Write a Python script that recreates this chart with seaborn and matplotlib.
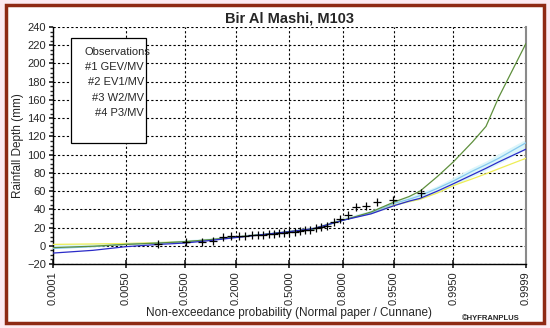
import pandas as pd
import numpy as np
import matplotlib
matplotlib.use("Agg")
import matplotlib.pyplot as plt
import matplotlib.patches as patches
import seaborn as sns
from statistics import NormalDist

# observed rainfall, sorted (Cunnane plotting positions)
obs_depth = [2, 4, 4.6, 5, 9.5, 10.6, 11, 11, 11.7, 11.7, 12.2, 12.8, 13.3, 13.9, 14.4,
             15, 15.5, 16, 17, 17.7, 19.4, 20.5, 22, 26, 29, 33.5, 42, 43.5, 48, 50, 57.7]

# probability grid for fitted curves
prob = [0.0001, 0.001, 0.005, 0.02, 0.05, 0.1, 0.2, 0.35, 0.5, 0.65, 0.8, 0.9, 0.95,
        0.97, 0.98, 0.99, 0.995, 0.998, 0.999, 0.9995, 0.9999]
gev = [-2, -0.5, 1.5, 3, 4.5, 6.5, 9.5, 12.5, 15.5, 18.5, 28, 37, 48,
       54, 60, 76, 92, 114, 131, 163, 222]
ev1 = [-3, -1, 1.5, 3, 4.5, 6.5, 9.5, 12.5, 15.5, 18.5, 28, 36, 46.5,
       51, 55, 63, 71, 82, 89, 96, 113]
w2 = [-8, -5, -1, 1.5, 3, 5.5, 9, 12.5, 15.5, 19, 28, 35, 44,
      49, 52, 60, 68, 78, 85, 92, 106]
p3 = [1.5, 2, 2.5, 3.5, 4.5, 6.5, 9.5, 12.5, 15.5, 19, 28.5, 35.5, 44.5,
      48.5, 51, 58, 66, 73.5, 79, 84.5, 96]
band_low = [-2, -0.5, 1.5, 3, 4.5, 6.5, 9.5, 12.5, 15.5, 18.5, 28, 35, 44,
            48, 51, 58, 66, 76, 83, 90, 106]
band_high = [2, 2.5, 3.5, 5, 6.5, 8.5, 11.5, 14.5, 17.5, 21, 31, 39, 49,
             54, 58, 66, 75, 86, 93, 101, 117]

tick_probs = [0.0001, 0.005, 0.05, 0.2, 0.5, 0.8, 0.95, 0.995, 0.9999]
tick_labels = ["0.0001", "0.0050", "0.0500", "0.2000", "0.5000", "0.8000", "0.9500", "0.9950", "0.9999"]
legend_lines = ["Observations", "#1 GEV/MV", "#2 EV1/MV", "#3 W2/MV", "#4 P3/MV"]

nd = NormalDist()
z = lambda p: nd.inv_cdf(p)

n = len(obs_depth)
obs_z = [z((i - 0.4) / (n + 0.2)) for i in range(1, n + 1)]
zgrid = [z(p) for p in prob]

curves = pd.DataFrame({
    "z": zgrid * 4,
    "depth": gev + ev1 + w2 + p3,
    "dist": ["GEV"] * len(prob) + ["EV1"] * len(prob) + ["W2"] * len(prob) + ["P3"] * len(prob),
})
pal = {"GEV": "#5e8f3c", "EV1": "#86c9ef", "W2": "#2b2bc8", "P3": "#eeee55"}

sns.set_theme(style="white")
plt.rcParams["font.family"] = ["Liberation Sans", "DejaVu Sans"]

fig = plt.figure(figsize=(5.5, 3.28), dpi=100, facecolor="#fcebf2")
frame = patches.Rectangle((6 / 550, 5 / 328), 538 / 550, 318 / 328, transform=fig.transFigure,
                          facecolor="white", edgecolor="#8e2a14", linewidth=2.5, zorder=-5)
fig.patches.append(frame)

ax = fig.add_axes([53 / 550, 1 - 264 / 328, 473 / 550, 237 / 328])
ax.set_facecolor("white")
ax.set_zorder(1)

ax.fill_between(zgrid, band_low, band_high, color="#dcf6fa", lw=0, zorder=1)
sns.lineplot(data=curves, x="z", y="depth", hue="dist", palette=pal, hue_order=["P3", "EV1", "GEV", "W2"],
             linewidth=0.9, legend=False, ax=ax, zorder=3)
sns.scatterplot(x=obs_z, y=obs_depth, marker="+", color="black", s=40, linewidth=0.9, ax=ax, zorder=4)

ax.set_xlim(z(0.0001), z(0.9999))
ax.set_ylim(-20, 240)
ax.set_xticks([z(p) for p in tick_probs])
ax.set_xticklabels(tick_labels, rotation=90, fontsize=8)
ax.set_yticks(range(-20, 241, 20))
ax.set_yticks(range(-20, 241, 5), minor=True)
ax.tick_params(axis="y", labelsize=8, length=3, which="major", left=True, direction="out", pad=2)
ax.tick_params(axis="y", which="minor", left=True, length=2, direction="out")
ax.tick_params(axis="x", bottom=True, length=6, direction="inout", pad=2)
ax.grid(True, color="black", linestyle=(0, (2, 2)), linewidth=0.8)
ax.grid(False, which="minor")
for s in ["left", "bottom"]:
    ax.spines[s].set_color("black")
    ax.spines[s].set_linewidth(1)
ax.spines["top"].set_visible(False)
ax.spines["right"].set_color("#8a8a8a")
ax.spines["right"].set_linewidth(1.5)

ax.set_xlabel("Non-exceedance probability (Normal paper / Cunnane)", fontsize=8.5, labelpad=2)
ax.set_ylabel("Rainfall Depth (mm)", fontsize=8.5, labelpad=2)
ax.set_title("Bir Al Mashi, M103", fontsize=10.5, fontweight="bold", pad=3)

# legend-like box
box = patches.Rectangle((71 / 550, 1 - 143 / 328), 75 / 550, 105 / 328, transform=fig.transFigure,
                        facecolor="white", edgecolor="black", linewidth=0.9, zorder=5)
fig.patches.append(box)
for k, t in enumerate(legend_lines):
    fig.text((150 - (0 if k == 0 else 6)) / 550, 1 - (52 + 15.2 * k) / 328, t, ha="right", va="center",
             fontsize=8, zorder=6)

fig.text(520 / 550, 1 - 318 / 328, "©HYFRANPLUS", ha="right", va="center", fontsize=5.5, fontweight="bold")

fig.savefig("out.png", dpi=100, facecolor=fig.get_facecolor())
